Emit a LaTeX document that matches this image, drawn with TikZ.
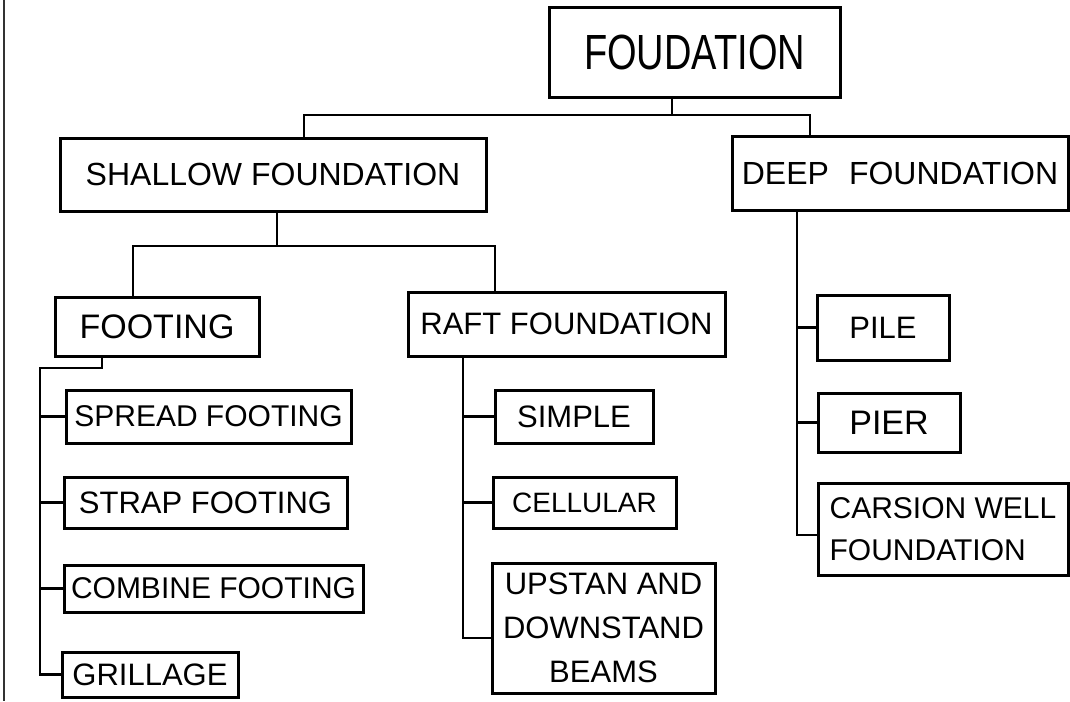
\documentclass[tikz,border=0pt]{standalone}
\usepackage{fontspec}
\setmainfont{Liberation Sans}
\usepackage{graphicx}
\begin{document}
\begin{tikzpicture}[x=1pt,y=-1pt,
  box/.style={draw=black, line width=3pt, rectangle, inner sep=2pt, text=black,
    font=\fontsize{31}{44}\selectfont},
  conn/.style={draw=black, line width=2.5pt, line join=miter}]
\useasboundingbox (0,0) rectangle (1070,701);
\fill[white] (0,0) rectangle (1070,701);
\draw[black!80, line width=2pt] (4,0) -- (4,701);

% nodes
\node[box, minimum width=291pt, minimum height=89pt, font=\fontsize{38}{44}\selectfont] (found) at (694.5,52.5) {\scalebox{1}[1.3]{FOUDATION}};
\node[box, minimum width=426pt, minimum height=73pt, font=\fontsize{32}{44}\selectfont] (shallow) at (273,174.5) {SHALLOW FOUNDATION};
\node[box, minimum width=336pt, minimum height=74pt, font=\fontsize{32}{44}\selectfont] (deep) at (900,173) {DEEP\hspace{0.35em} FOUNDATION};
\node[box, minimum width=204pt, minimum height=59pt, font=\fontsize{34}{44}\selectfont] (footing) at (157,326.5) {FOOTING};
\node[box, minimum width=317pt, minimum height=64pt] (raft) at (566.5,324) {RAFT FOUNDATION};
\node[box, minimum width=285pt, minimum height=53pt, font=\fontsize{30}{44}\selectfont] (spread) at (208.5,416.5) {SPREAD FOOTING};
\node[box, minimum width=283pt, minimum height=51pt] (strap) at (205.5,502.5) {STRAP FOOTING};
\node[box, minimum width=299pt, minimum height=47pt, font=\fontsize{30}{44}\selectfont] (combine) at (213.5,588.5) {COMBINE FOOTING};
\node[box, minimum width=176pt, minimum height=45pt] (grillage) at (150,674.5) {GRILLAGE};
\node[box, minimum width=158pt, minimum height=53pt] (simple) at (574,416.5) {SIMPLE};
\node[box, minimum width=183pt, minimum height=51pt, font=\fontsize{28}{44}\selectfont] (cellular) at (584.5,502.5) {CELLULAR};
\node[box, minimum width=223pt, minimum height=130pt, align=center] (upstan) at (603.5,628) {UPSTAN AND\\DOWNSTAND\\BEAMS};
\node[box, minimum width=132pt, minimum height=65pt] (pile) at (883,327.5) {PILE};
\node[box, minimum width=142pt, minimum height=59pt, font=\fontsize{34}{44}\selectfont] (pier) at (889,422.5) {PIER};
\node[box, minimum width=250pt, minimum height=92pt, align=left, font=\fontsize{30}{42}\selectfont] (carsion) at (943,529) {CARSION WELL\\FOUNDATION};

% connectors: top level
\coordinate (b0) at (672,115);
\coordinate (bS) at (304,115);
\coordinate (bD) at (810,115);
\draw[conn] (found.south -| b0) -- (b0);
\draw[conn] (shallow.north -| bS) -- (bS) -- (bD) -- (deep.north -| bD);

% shallow
\coordinate (s0) at (277,246);
\coordinate (sF) at (133,246);
\coordinate (sR) at (495,246);
\draw[conn] (shallow.south -| s0) -- (s0);
\draw[conn] (footing.north -| sF) -- (sF) -- (sR) -- (raft.north -| sR);

% footing
\coordinate (f0) at (102,368);
\coordinate (f1) at (40,368);
\draw[conn] (footing.south -| f0) -- (f0) -- (f1) |- (grillage.west);
\draw[conn] (f1 |- spread.west) -- (spread.west);
\draw[conn] (f1 |- strap.west) -- (strap.west);
\draw[conn] (f1 |- combine.west) -- (combine.west);

% raft
\coordinate (r1) at (463,638);
\draw[conn] (raft.south -| r1) -- (r1) -- (r1 -| upstan.west);
\draw[conn] (r1 |- simple.west) -- (simple.west);
\draw[conn] (r1 |- cellular.west) -- (cellular.west);

% deep
\coordinate (d1) at (797,535);
\draw[conn] (deep.south -| d1) -- (d1) -- (d1 -| carsion.west);
\draw[conn] (d1 |- pile.west) -- (pile.west);
\draw[conn] (d1 |- pier.west) -- (pier.west);
\end{tikzpicture}
\end{document}
